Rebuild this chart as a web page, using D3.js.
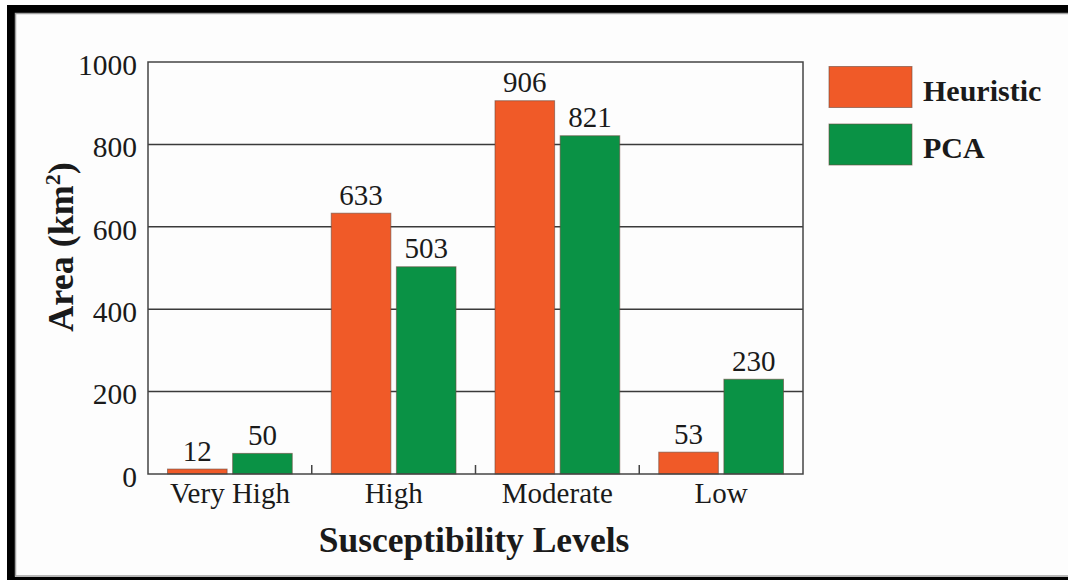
<!DOCTYPE html>
<html>
<head>
<meta charset="utf-8">
<script src="https://cdn.jsdelivr.net/npm/d3@7"></script>
<style>
  html, body { margin: 0; padding: 0; background: #ffffff; }
  svg { display: block; }
  text { font-family: "Liberation Serif", "Times New Roman", serif; fill: #1a1a1a; }
</style>
</head>
<body>
<svg id="chart" width="1068" height="580"></svg>
<script>
// Susceptibility area per level for the two mapping methods
const categories = ["Very High", "High", "Moderate", "Low"];
const seriesNames = ["Heuristic", "PCA"];
const heuristicValues = [12, 633, 906, 53];
const pcaValues = [50, 503, 821, 230];
const yTicks = [0, 200, 400, 600, 800, 1000];
const seriesColors = ["#f05a28", "#0a9245"];

const rows = categories.map((c, i) => ({
  category: c,
  values: [
    { series: seriesNames[0], value: heuristicValues[i] },
    { series: seriesNames[1], value: pcaValues[i] }
  ]
}));

const svg = d3.select("#chart");
const W = 1068, H = 580;

// page frame: thick black edge with a thin grey line inside
svg.append("rect").attr("x", 0).attr("y", 0).attr("width", W).attr("height", H).attr("fill", "#fdfdfd");
svg.append("rect")
  .attr("x", 11).attr("y", 9).attr("width", 1100).attr("height", 572)
  .attr("fill", "none").attr("stroke", "#000").attr("stroke-width", 8);
svg.append("rect")
  .attr("x", 15.5).attr("y", 13.5).attr("width", 1100).attr("height", 562.5)
  .attr("fill", "none").attr("stroke", "#a0a0a0").attr("stroke-width", 1.5);

const plot = { left: 148, top: 62, right: 803, bottom: 474 };

const x0 = d3.scaleBand()
  .domain(categories)
  .range([plot.left, plot.right])
  .padding(0);

const groupPad = 19.5;
const x1 = d3.scaleBand()
  .domain(seriesNames)
  .range([groupPad, x0.bandwidth() - groupPad])
  .paddingInner(0.085)
  .paddingOuter(0);

const y = d3.scaleLinear().domain([0, 1000]).range([plot.bottom, plot.top]);
const color = d3.scaleOrdinal().domain(seriesNames).range(seriesColors);

// horizontal gridlines
svg.append("g")
  .selectAll("line")
  .data(yTicks.filter(t => t > 0 && t < 1000))
  .join("line")
  .attr("x1", plot.left).attr("x2", plot.right)
  .attr("y1", d => y(d)).attr("y2", d => y(d))
  .attr("stroke", "#3a3a3a").attr("stroke-width", 1.5);

// bars
const groups = svg.append("g")
  .selectAll("g")
  .data(rows)
  .join("g")
  .attr("transform", d => `translate(${x0(d.category)},0)`);

groups.selectAll("rect")
  .data(d => d.values)
  .join("rect")
  .attr("x", d => x1(d.series))
  .attr("y", d => y(d.value))
  .attr("width", x1.bandwidth())
  .attr("height", d => y(0) - y(d.value))
  .attr("fill", d => color(d.series))
  .attr("stroke", "#6b4a3e")
  .attr("stroke-opacity", 0.6)
  .attr("stroke-width", 1);

// value labels above bars
groups.selectAll("text.value")
  .data(d => d.values)
  .join("text")
  .attr("class", "value")
  .attr("x", d => x1(d.series) + x1.bandwidth() / 2)
  .attr("y", d => y(d.value) - 8.5)
  .attr("text-anchor", "middle")
  .attr("font-size", 29)
  .text(d => d.value);

// plot frame
svg.append("rect")
  .attr("x", plot.left).attr("y", plot.top)
  .attr("width", plot.right - plot.left).attr("height", plot.bottom - plot.top)
  .attr("fill", "none").attr("stroke", "#444").attr("stroke-width", 1.5);

// y axis labels (no tick marks, grid serves as ticks)
const yAxis = d3.axisLeft(y).tickValues(yTicks).tickFormat(d3.format("d")).tickSize(0).tickPadding(11);
const yg = svg.append("g").attr("transform", `translate(${plot.left},0)`).call(yAxis);
yg.select(".domain").remove();
yg.selectAll("text")
  .attr("font-size", 29.5)
  .attr("fill", "#1a1a1a")
  .attr("dy", "0.42em");

// x axis: inward separator ticks between categories, labels below
const xAxis = d3.axisBottom(x0).tickSize(0).tickPadding(10);
const xg = svg.append("g").attr("transform", `translate(0,${plot.bottom})`).call(xAxis);
xg.select(".domain").remove();
xg.selectAll("text")
  .attr("font-size", 29)
  .attr("fill", "#1a1a1a")
  .attr("dy", "0.65em");

svg.append("g")
  .selectAll("line")
  .data(categories.slice(1))
  .join("line")
  .attr("x1", d => x0(d)).attr("x2", d => x0(d))
  .attr("y1", plot.bottom).attr("y2", plot.bottom - 9)
  .attr("stroke", "#444").attr("stroke-width", 1.5);

// axis titles
svg.append("text")
  .attr("x", 474)
  .attr("y", 552)
  .attr("text-anchor", "middle")
  .attr("font-size", 35.5)
  .attr("font-weight", "bold")
  .text("Susceptibility Levels");

const yTitle = svg.append("text")
  .attr("transform", "translate(73,247) rotate(-90)")
  .attr("text-anchor", "middle")
  .attr("font-size", 36)
  .attr("font-weight", "bold");
yTitle.append("tspan").text("Area (km");
yTitle.append("tspan").attr("font-size", 22).attr("dy", -13).text("2");
yTitle.append("tspan").attr("dy", 13).text(")");

// legend
const legend = svg.append("g")
  .selectAll("g")
  .data(seriesNames)
  .join("g")
  .attr("transform", (d, i) => `translate(829,${66.5 + i * 57.5})`);

legend.append("rect")
  .attr("width", 83).attr("height", 41)
  .attr("fill", d => color(d))
  .attr("stroke", "#6b4a3e").attr("stroke-opacity", 0.6).attr("stroke-width", 1);

legend.append("text")
  .attr("x", 94).attr("y", 34)
  .attr("font-size", 30)
  .attr("font-weight", "bold")
  .text(d => d);
</script>
</body>
</html>
